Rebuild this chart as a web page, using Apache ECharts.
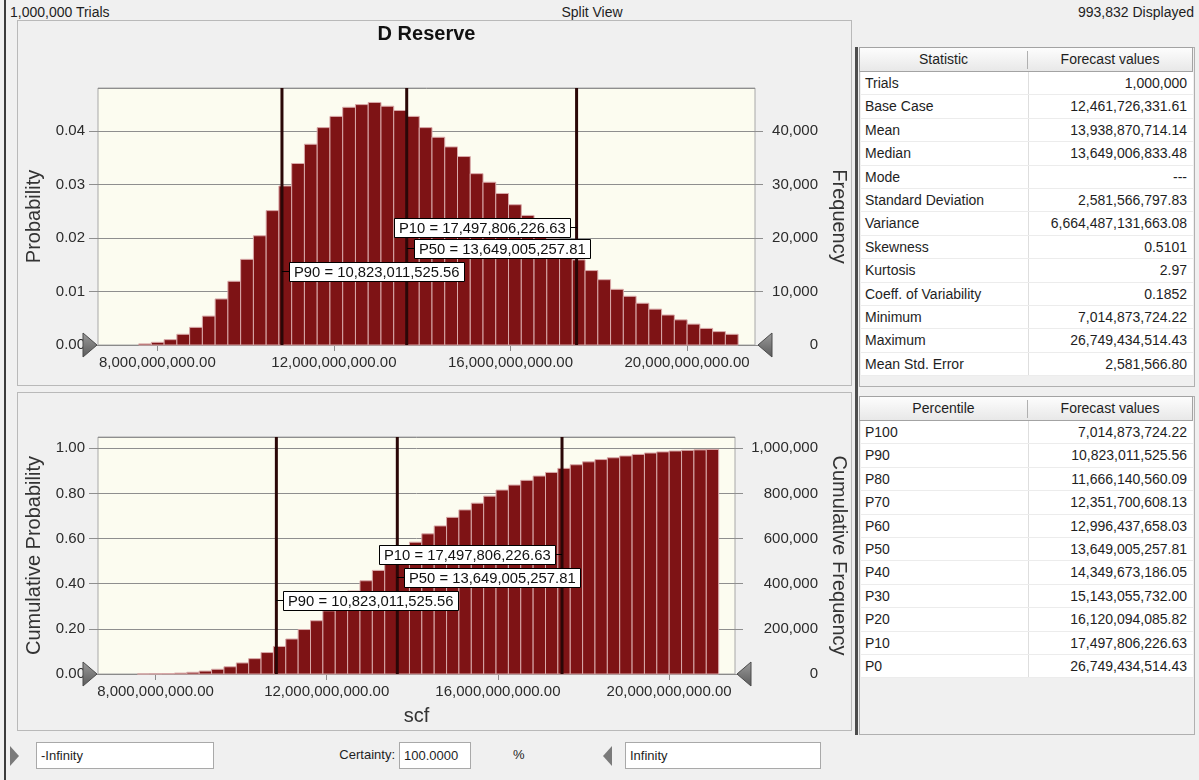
<!DOCTYPE html>
<html><head><meta charset="utf-8">
<script src="https://cdn.jsdelivr.net/npm/echarts@6.0.0/dist/echarts.min.js"></script>
<style>
*{box-sizing:border-box}
html,body{margin:0;padding:0;width:1199px;height:780px;background:#f0f0f0;overflow:hidden;font-family:'Liberation Sans',Arial,sans-serif;font-size:14px;color:#1e1e1e}
.abs{position:absolute;white-space:nowrap}
.panel{position:absolute;border:1px solid #b9b9b9;background:#f0f0f0}
.thead{position:absolute;left:0;width:334px;background:linear-gradient(#fdfdfd,#e8e8e8);border:1px solid #a3a3a3}
.thead span{position:absolute;top:0;text-align:center}
.row{position:absolute;left:1px;width:332px;background:#fff;border-bottom:1px solid #ececec}
.c1{position:absolute;left:4px;white-space:nowrap}
.c2{position:absolute;right:6px;white-space:nowrap;text-align:right}
.vl{position:absolute;left:167px;width:1px;background:#dedede}
.inp{position:absolute;height:27px;top:742px;background:#fff;border:1px solid #a9a9a9;font-size:13px;line-height:25px;padding-left:4px;white-space:nowrap}
#chart{position:absolute;left:0;top:0;width:860px;height:740px}
</style></head>
<body>
<div class="abs" style="left:4px;top:0;width:2px;height:780px;background:#3c3c3c"></div>
<div class="abs" style="left:10px;top:4px">1,000,000 Trials</div>
<div class="abs" style="left:592px;top:4px;transform:translateX(-50%)">Split View</div>
<div class="abs" style="right:5px;top:4px">993,832 Displayed</div>
<div class="panel" style="left:17px;top:20px;width:835px;height:366px"></div>
<div class="panel" style="left:17px;top:392px;width:835px;height:339px"></div>
<div class="abs" style="left:855px;top:47px;width:3px;height:688px;background:#4d4d4d"></div>
<div id="stats" class="abs" style="left:859px;top:47px;width:336px;height:340px;border:1px solid #b0b0b0"></div>
<div id="pct" class="abs" style="left:859px;top:396px;width:336px;height:339px;border:1px solid #b0b0b0"></div>
<div class="abs" style="left:10px;top:746px;width:0;height:0;border-top:10px solid transparent;border-bottom:10px solid transparent;border-left:9px solid #7a7a7a"></div>
<div class="inp" style="left:36px;width:178px">-Infinity</div>
<div class="abs" style="right:804px;top:747px;font-size:13px">Certainty:</div>
<div class="inp" style="left:399px;width:72px">100.0000</div>
<div class="abs" style="left:513px;top:747px;font-size:13px">%</div>
<div class="abs" style="left:603px;top:746px;width:0;height:0;border-top:10px solid transparent;border-bottom:10px solid transparent;border-right:9px solid #7a7a7a"></div>
<div class="inp" style="left:625px;width:196px">Infinity</div>
<div id="chart"></div>
<script>
// ---------------- data ----------------
const statNames = ['Trials','Base Case','Mean','Median','Mode','Standard Deviation','Variance','Skewness','Kurtosis','Coeff. of Variability','Minimum','Maximum','Mean Std. Error'];
const statValues = ['1,000,000','12,461,726,331.61','13,938,870,714.14','13,649,006,833.48','---','2,581,566,797.83','6,664,487,131,663.08','0.5101','2.97','0.1852','7,014,873,724.22','26,749,434,514.43','2,581,566.80'];
const pctNames = ['P100','P90','P80','P70','P60','P50','P40','P30','P20','P10','P0'];
const pctValues = [7014873724.22,10823011525.56,11666140560.09,12351700608.13,12996437658.03,13649005257.81,14349673186.05,15143055732.00,16120094085.82,17497806226.63,26749434514.43];
const markedPct = ['P90','P50','P10'];
const BIN_START = 7.575e9, BIN_WIDTH = 0.289e9;
const probability = [0.0002,0.0005,0.0010,0.0020,0.0033,0.0054,0.0086,0.0119,0.0160,0.0204,
  0.0251,0.0297,0.0339,0.0375,0.0406,0.0427,0.0444,0.0449,0.0453,0.0446,
  0.0438,0.0427,0.0406,0.0388,0.0370,0.0352,0.0320,0.0304,0.0283,0.0262,
  0.0242,0.0220,0.0198,0.0178,0.0159,0.0139,0.0122,0.0104,0.0091,0.0078,
  0.0067,0.0056,0.0047,0.0039,0.0031,0.0025,0.0020];
const cumulative = [0.0002,0.0007,0.0018,0.0040,0.0075,0.013,0.021,0.032,0.049,0.068,
  0.095,0.122,0.155,0.197,0.236,0.280,0.323,0.368,0.413,0.459,
  0.502,0.545,0.584,0.621,0.656,0.694,0.727,0.757,0.788,0.815,
  0.837,0.858,0.877,0.893,0.911,0.927,0.940,0.950,0.958,0.966,
  0.973,0.979,0.984,0.988,0.991,0.993,0.995];
const xTicks = [8e9, 12e9, 16e9, 20e9];
const X_MIN = 6.655e9, X_MAX = 21.54e9;
// label placement (layout only): y in axis units, side +1 right / -1 left
const labelLayoutTop = {P90:[0.01382,1], P50:[0.01803,1], P10:[0.02195,-1]};
const labelLayoutBottom = {P90:[0.3278,1], P50:[0.4282,1], P10:[0.5316,-1]};

// ---------------- tables ----------------
const ROWH = 23.4;
function buildTable(el, h1, h2, names, vals){
  let html = '<div class="thead" style="top:-1px;left:-1px;height:25px"><span style="left:0;width:167px;line-height:23px">'+h1+'</span><span style="left:167px;width:166px;line-height:23px">'+h2+'</span><div class="vl" style="top:3px;height:18px;background:#b0b0b0"></div></div>';
  names.forEach((n,i)=>{
    html += '<div class="row" style="top:'+(24+i*ROWH)+'px;height:'+ROWH+'px;line-height:'+ROWH+'px"><span class="c1">'+n+'</span><span class="c2">'+vals[i]+'</span><div class="vl" style="top:0;height:100%"></div></div>';
  });
  el.innerHTML = html;
}
const fmt2 = v => v.toLocaleString('en-US',{minimumFractionDigits:2,maximumFractionDigits:2});
buildTable(document.getElementById('stats'),'Statistic','Forecast values',statNames,statValues);
buildTable(document.getElementById('pct'),'Percentile','Forecast values',pctNames,pctValues.map(fmt2));

// ---------------- chart ----------------
const FONT = "'Liberation Sans', Arial, sans-serif";
const LABEL_FONT = "14.8px 'Liberation Sans', Arial, sans-serif";
const mctx = document.createElement('canvas').getContext('2d');
mctx.font = LABEL_FONT;
const chart = echarts.init(document.getElementById('chart'), null, {renderer:'canvas'});

const G1 = {left:98, top:88, width:657, height:257};
const G2 = {left:98, top:437, width:637, height:237};

const histTop = probability.map((v,i)=>[BIN_START+i*BIN_WIDTH, BIN_START+(i+1)*BIN_WIDTH, v]);
const histBot = cumulative.map((v,i)=>[BIN_START+i*BIN_WIDTH, BIN_START+(i+1)*BIN_WIDTH, v]);
const markVals = markedPct.map(n=>pctValues[pctNames.indexOf(n)]);
const labTop = markedPct.map((n,i)=>[markVals[i], labelLayoutTop[n][0], labelLayoutTop[n][1]]);
const labBot = markedPct.map((n,i)=>[markVals[i], labelLayoutBottom[n][0], labelLayoutBottom[n][1]]);

function histItem(params, api){
  const a = api.coord([api.value(0), api.value(2)]);
  const b = api.coord([api.value(1), 0]);
  return {type:'rect', shape:{x:a[0], y:a[1], width:b[0]-a[0], height:b[1]-a[1]},
    style:{fill:'#7e1315', stroke:'#d9a9a9', lineWidth:1}};
}
function lineItem(params, api){
  const cs = params.coordSys;
  const x = api.coord([api.value(0), 0])[0];
  return {type:'line', shape:{x1:x, y1:cs.y, x2:x, y2:cs.y+cs.height}, style:{stroke:'#2a0707', lineWidth:3}};
}
function labelItem(params, api){
  const p = api.coord([api.value(0), api.value(1)]);
  const side = api.value(2);
  const txt = markedPct[params.dataIndex] + ' = ' + fmt2(markVals[params.dataIndex]);
  const w = Math.round(mctx.measureText(txt).width) + 9;
  const h = 19, gap = 7;
  const x0 = Math.round(p[0]), y0 = Math.round(p[1]);
  const bx = side > 0 ? x0 + gap : x0 - gap - w;
  const by = Math.round(y0 - h/2);
  return {type:'group', children:[
    {type:'line', shape:{x1:x0, y1:y0+0.5, x2: side>0 ? bx : bx+w, y2:y0+0.5}, style:{stroke:'#000', lineWidth:1}},
    {type:'rect', shape:{x:bx+0.5, y:by+0.5, width:w, height:h}, style:{fill:'#fff', stroke:'#000', lineWidth:1}},
    {type:'text', style:{text:txt, x:bx+5, y:by+h/2+1, font:LABEL_FONT, fill:'#111', verticalAlign:'middle', align:'left'}}
  ]};
}
const commonX = (gi)=>({
  type:'value', gridIndex:gi, min:X_MIN, max:X_MAX,
  axisLine:{show:true, lineStyle:{color:'#8a8a8a'}},
  axisTick:{show:true, customValues:xTicks, length:6, lineStyle:{color:'#8a8a8a'}},
  axisLabel:{customValues:xTicks, margin:10, color:'#2b2b2b', fontSize:15, fontFamily:FONT,
    formatter:v=>fmt2(v)},
  splitLine:{show:false}
});
const yLeft = (gi,max,interval,name,gap)=>({
  type:'value', gridIndex:gi, position:'left', min:0, max:max, interval:interval,
  name:name, nameLocation:'middle', nameGap:gap, nameRotate:90,
  nameTextStyle:{fontSize:20, color:'#333', fontFamily:FONT},
  axisLine:{show:false},
  axisTick:{show:true, length:9, lineStyle:{color:'#8e8e8e'}},
  axisLabel:{showMaxLabel:false, margin:13, color:'#2b2b2b', fontSize:15, fontFamily:FONT, formatter:v=>v.toFixed(2)},
  splitLine:{show:true, lineStyle:{color:'#8e8e8e', width:1}}
});
const yRight = (gi,max,interval,name,gap,margin)=>({
  type:'value', gridIndex:gi, position:'right', min:0, max:max, interval:interval,
  name:name, nameLocation:'middle', nameGap:gap, nameRotate:-90,
  nameTextStyle:{fontSize:20, color:'#333', fontFamily:FONT},
  axisLine:{show:false},
  axisTick:{show:true, length:8, lineStyle:{color:'#8e8e8e'}},
  axisLabel:{showMaxLabel:false, margin:margin, align:'right', color:'#2b2b2b', fontSize:15, fontFamily:FONT,
    formatter:v=>v.toLocaleString('en-US')},
  splitLine:{show:false}
});
function tri(x, y, dir){
  const pts = dir>0 ? [[x-14,y-12],[x,y],[x-14,y+12]] : [[x+14,y-12],[x,y],[x+14,y+12]];
  return {type:'polygon', z:100, shape:{points:pts},
    style:{fill:new echarts.graphic.LinearGradient(0,0,0,1,[{offset:0,color:'#9c9c9c'},{offset:1,color:'#5a5a5a'}]), stroke:'#4a4a4a', lineWidth:1}};
}
const option = {
  animation:false,
  textStyle:{fontFamily:FONT},
  grid:[
    Object.assign({show:true, backgroundColor:'#fcfcf0', borderColor:'#a8a8a8', borderWidth:1}, G1),
    Object.assign({show:true, backgroundColor:'#fcfcf0', borderColor:'#a8a8a8', borderWidth:1}, G2)
  ],
  xAxis:[commonX(0), Object.assign(commonX(1), {name:'scf', nameLocation:'middle', nameGap:32, nameTextStyle:{fontSize:20, color:'#333', fontFamily:FONT}})],
  yAxis:[
    yLeft(0, 0.048, 0.01, 'Probability', 44),
    yRight(0, 48000, 10000, 'Frequency', 72, 63),
    yLeft(1, 1.05, 0.2, 'Cumulative Probability', 44),
    yRight(1, 1050000, 200000, 'Cumulative Frequency', 92, 83)
  ],
  series:[
    {type:'custom', xAxisIndex:0, yAxisIndex:0, renderItem:histItem, data:histTop, z:2, encode:{x:[0,1], y:2}},
    {type:'custom', xAxisIndex:0, yAxisIndex:0, renderItem:lineItem, data:labTop, z:3, encode:{x:0, y:1}},
    {type:'custom', xAxisIndex:0, yAxisIndex:0, renderItem:labelItem, data:labTop, z:4, encode:{x:0, y:1}},
    {type:'custom', xAxisIndex:1, yAxisIndex:2, renderItem:histItem, data:histBot, z:2, encode:{x:[0,1], y:2}},
    {type:'custom', xAxisIndex:1, yAxisIndex:2, renderItem:lineItem, data:labBot, z:3, encode:{x:0, y:1}},
    {type:'custom', xAxisIndex:1, yAxisIndex:2, renderItem:labelItem, data:labBot, z:4, encode:{x:0, y:1}}
  ],
  graphic:[
    {type:'text', x:G1.left+G1.width/2, y:34, z:100, style:{text:'D Reserve', font:"bold 20px 'Liberation Sans', Arial, sans-serif", fill:'#111', align:'center', verticalAlign:'middle'}},
    tri(G1.left-1, G1.top+G1.height, 1),
    tri(G1.left+G1.width+3, G1.top+G1.height, -1),
    tri(G2.left-1, G2.top+G2.height, 1),
    tri(G2.left+G2.width+2, G2.top+G2.height, -1)
  ]
};
chart.setOption(option);
</script>
</body></html>
